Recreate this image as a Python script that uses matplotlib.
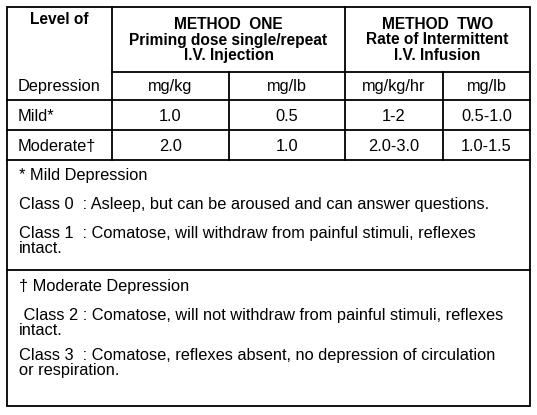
import matplotlib
matplotlib.use("Agg")
import matplotlib.pyplot as plt

header_col0 = ["Level of", "Depression"]
method_titles = ["METHOD  ONE\nPriming dose single/repeat\nI.V. Injection",
                 "METHOD  TWO\nRate of Intermittent\nI.V. Infusion"]
units = ["mg/kg", "mg/lb", "mg/kg/hr", "mg/lb"]
row_labels = ["Mild*", "Moderate\u2020"]
row_values = [["1.0", "0.5", "1-2", "0.5-1.0"],
              ["2.0", "1.0", "2.0-3.0", "1.0-1.5"]]
notes1 = ["* Mild Depression",
          "Class 0  : Asleep, but can be aroused and can answer questions.",
          "Class 1  : Comatose, will withdraw from painful stimuli, reflexes\nintact."]
notes2 = ["\u2020 Moderate Depression",
          " Class 2 : Comatose, will not withdraw from painful stimuli, reflexes\nintact.",
          "Class 3  : Comatose, reflexes absent, no depression of circulation\nor respiration."]

W, H = 537, 415
fig = plt.figure(figsize=(W/100, H/100), dpi=100)
ax = fig.add_axes([0, 0, 1, 1])
ax.set_xlim(0, W); ax.set_ylim(H, 0); ax.axis("off")
fam = ["Liberation Sans", "DejaVu Sans"]
fs = 11.8
lw = 1.3

L, R, T, B = 7, 530, 7, 406
xs = [L, 112, 229, 345, 443, R]
y_head, y_r1, y_r2, y_r3, y_n = 72, 100, 130, 160, 270

def hl(y, x0=L, x1=R): ax.plot([x0, x1], [y, y], color="black", lw=lw)
def vl(x, y0, y1): ax.plot([x, x], [y0, y1], color="black", lw=lw)

ax.add_patch(plt.Rectangle((L, T), R-L, B-T, fill=False, lw=lw, ec="black"))
for y in [y_r1, y_r2, y_r3, y_n]: hl(y)
hl(y_head, xs[1], R)
vl(xs[1], T, y_r3); vl(xs[3], T, y_r3)
vl(xs[2], y_head, y_r3); vl(xs[4], y_head, y_r3)

ax.text(59, 20, header_col0[0], ha="center", va="center", fontsize=fs*0.95, fontweight="bold", family=fam)
ax.text(59, 86, header_col0[1], ha="center", va="center", fontsize=fs, family=fam)
for i, t in enumerate(method_titles):
    cx = (xs[1] + xs[3]) / 2 if i == 0 else (xs[3] + xs[5]) / 2
    ax.text(cx, 40, t, ha="center", va="center", fontsize=fs*0.95, fontweight="bold",
            family=fam, linespacing=1.05)
for j, u in enumerate(units):
    ax.text((xs[j+1]+xs[j+2])/2, 86, u, ha="center", va="center", fontsize=fs, family=fam)
for r, (lab, vals) in enumerate(zip(row_labels, row_values)):
    yc = (116, 146)[r]
    ax.text(18, yc, lab, ha="left", va="center", fontsize=fs, family=fam)
    for j, v in enumerate(vals):
        ax.text((xs[j+1]+xs[j+2])/2, yc, v, ha="center", va="center", fontsize=fs, family=fam)

def note(t, ytop):
    ax.text(19, ytop, t, ha="left", va="top", fontsize=fs, family=fam, linespacing=1.0)

for t, y in zip(notes1, [168, 197, 226]):
    note(t, y)
for t, y in zip(notes2, [279, 308, 348]):
    note(t, y)

fig.savefig("out.png", dpi=100)
